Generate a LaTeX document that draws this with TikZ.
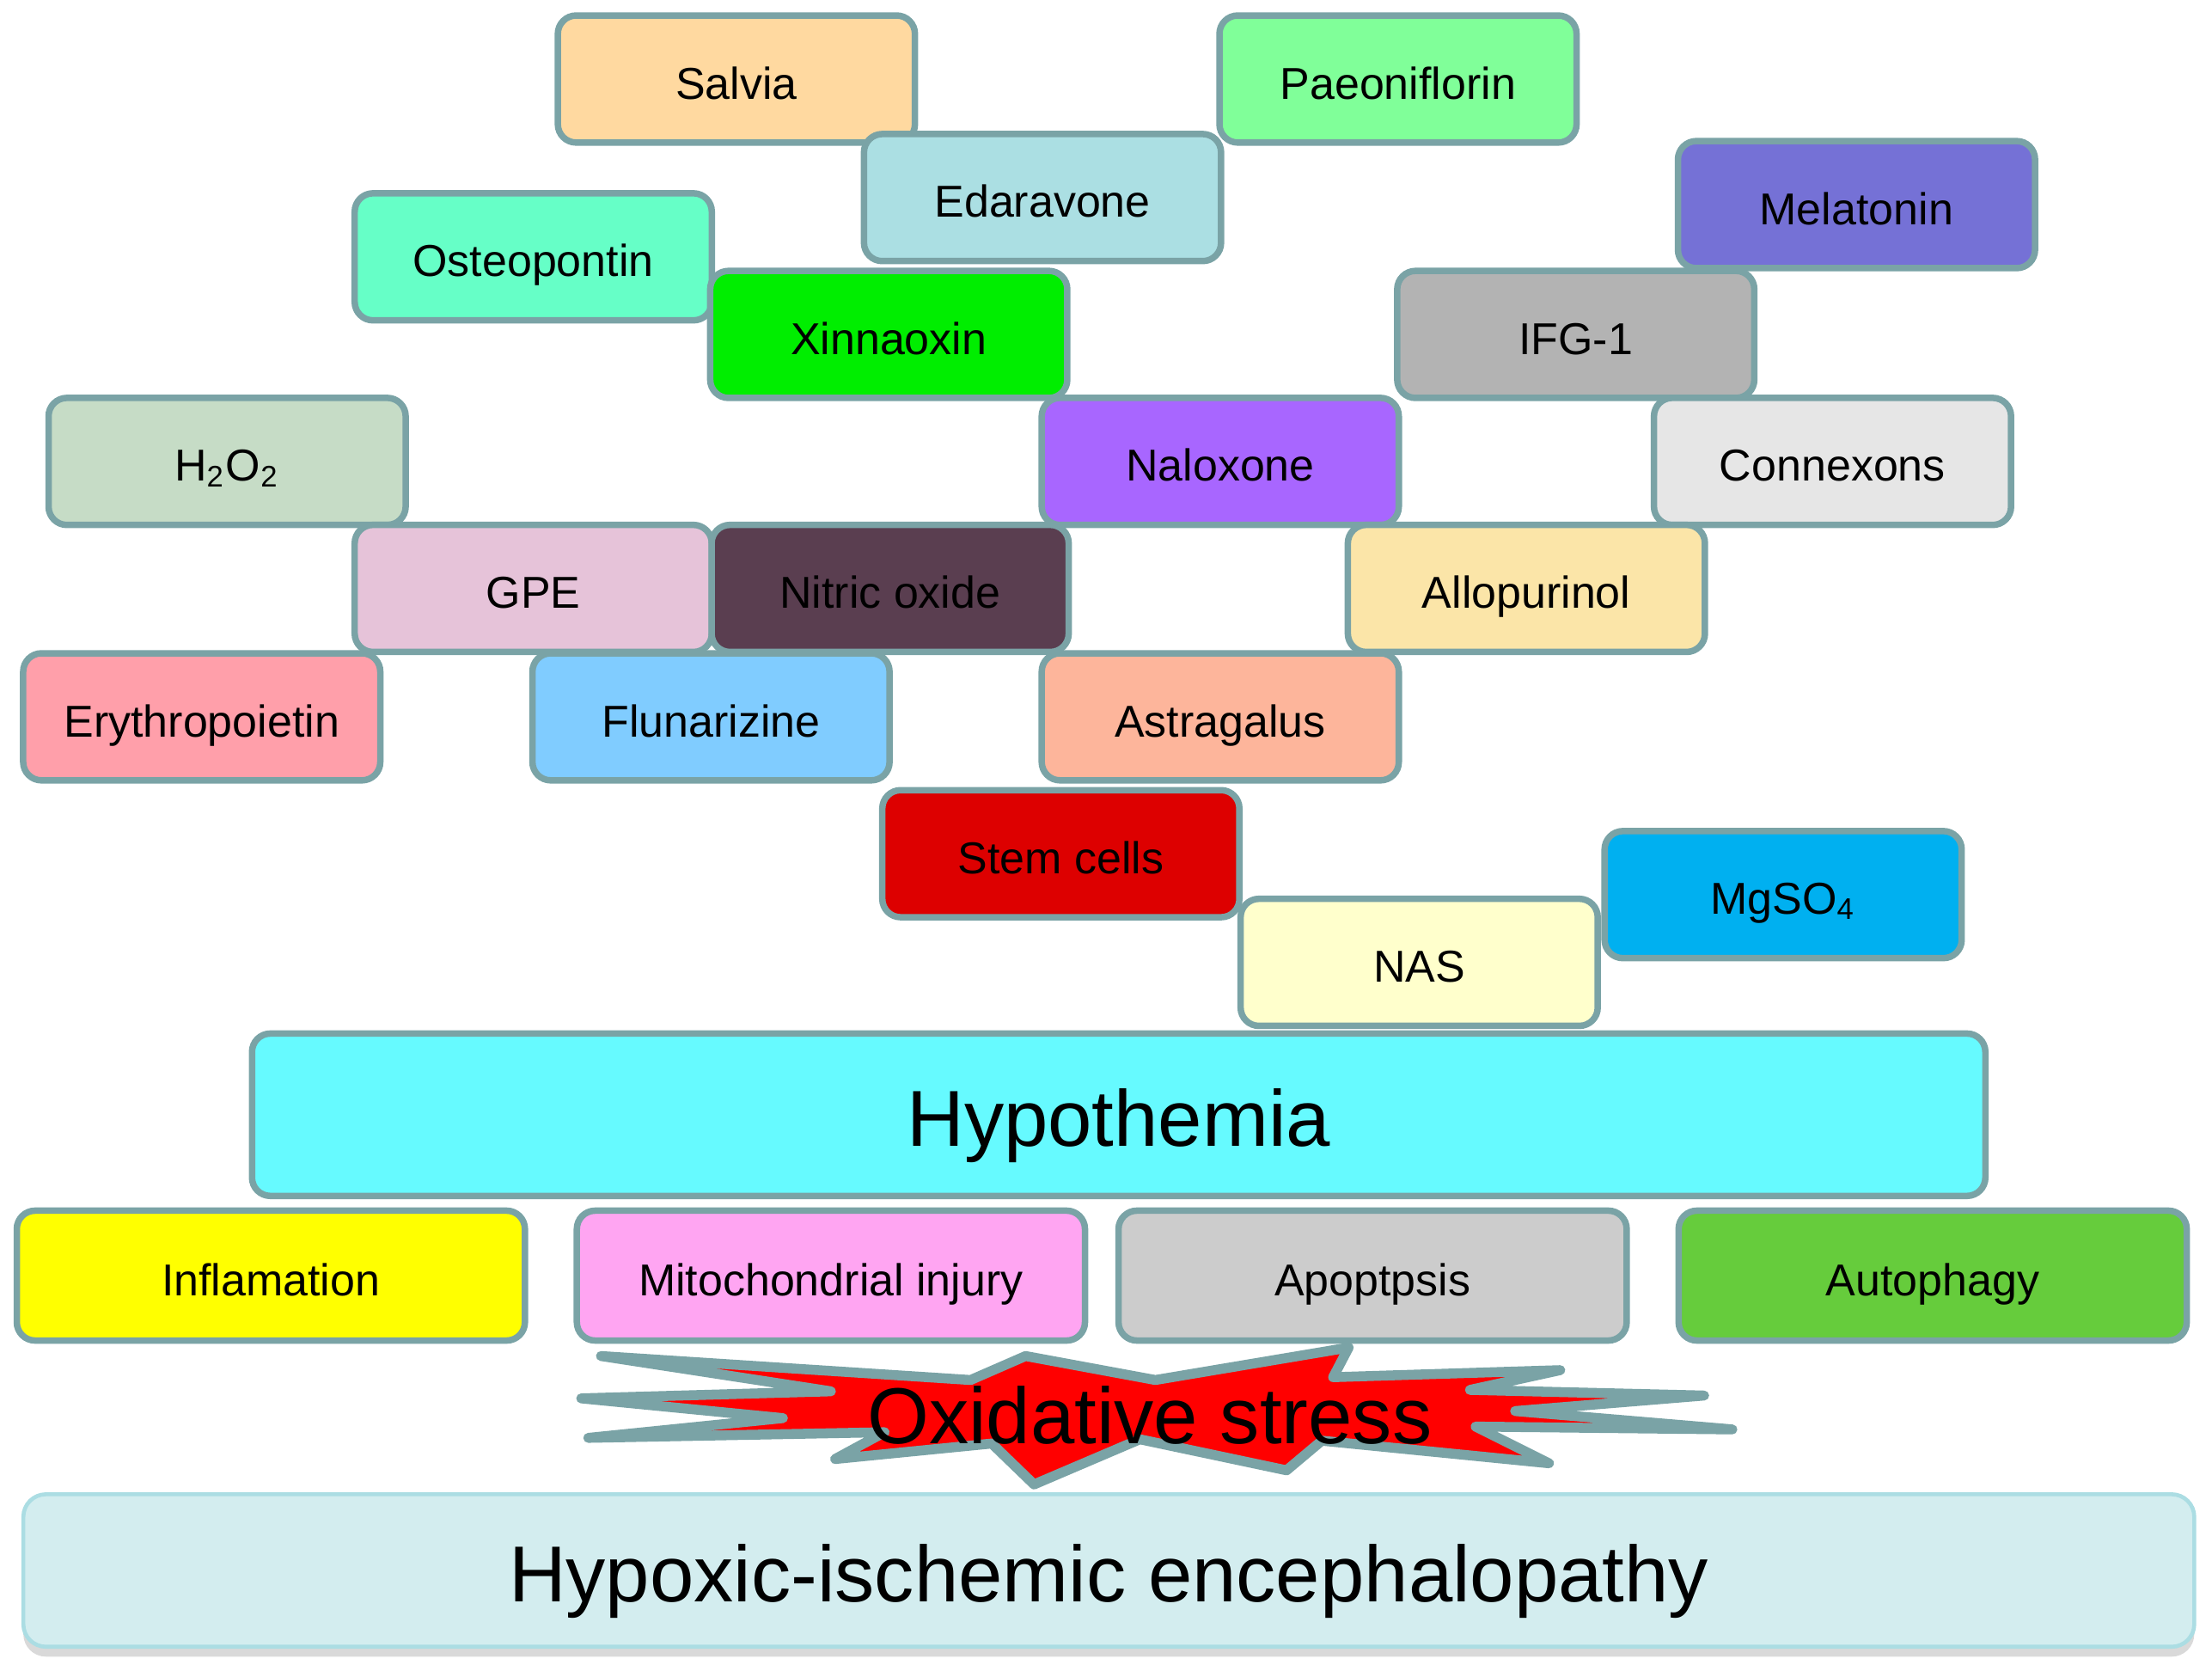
\documentclass[tikz,border=0pt]{standalone}
\usepackage{fontspec}
\setmainfont{Liberation Sans}
\usetikzlibrary{positioning,shadows}
\definecolor{edgegray}{HTML}{7AA3A6}
\definecolor{salviac}{HTML}{FFD9A0}
\definecolor{paeonc}{HTML}{80FF99}
\definecolor{edarac}{HTML}{ABDFE3}
\definecolor{melac}{HTML}{7571D6}
\definecolor{osteoc}{HTML}{66FFC7}
\definecolor{xinc}{HTML}{00EE00}
\definecolor{ifgc}{HTML}{B3B3B3}
\definecolor{hooc}{HTML}{C6DCC6}
\definecolor{naloc}{HTML}{A866FF}
\definecolor{connc}{HTML}{E6E6E6}
\definecolor{gpec}{HTML}{E6C3D9}
\definecolor{nitc}{HTML}{5A3E50}
\definecolor{alloc}{HTML}{FBE5A8}
\definecolor{eryc}{HTML}{FF9FAA}
\definecolor{flunc}{HTML}{80CCFF}
\definecolor{astrc}{HTML}{FDB59B}
\definecolor{stemc}{HTML}{DD0000}
\definecolor{nasc}{HTML}{FFFFCC}
\definecolor{mgc}{HTML}{00B0F0}
\definecolor{hypoc}{HTML}{66FAFF}
\definecolor{inflc}{HTML}{FFFF00}
\definecolor{mitoc}{HTML}{FFA5F2}
\definecolor{apoc}{HTML}{CCCCCC}
\definecolor{autoc}{HTML}{66CC3C}
\definecolor{hiec}{HTML}{D3EDEF}
\definecolor{hieedge}{HTML}{ABDDE3}

\begin{document}
\begin{tikzpicture}[x=0.01cm, y=-0.01cm,
		box/.style={rectangle, rounded corners=0.13cm, draw=edgegray, line width=1.3pt,
			minimum width=2.53cm, minimum height=0.9cm, text=black,
			font=\fontsize{9}{11}\selectfont, text height=8.5pt, text depth=0.5pt},
		widebox/.style={box, minimum width=3.6cm, minimum height=0.92cm},
		bigfont/.style={font=\fontsize{16}{19}\selectfont, text height=13pt, text depth=0.4pt},
		burst/.style={fill=red, draw=edgegray, line width=2pt, line join=round}]
		\useasboundingbox (0,0) rectangle (1568,1184);
		% treatments
		\node[box, fill=salviac] (salvia) at (522,56) {Salvia};
		\node[box, fill=paeonc] (paeon) at (991,56) {Paeoniflorin};
		\node[box, fill=edarac] (edara) at (739,140) {Edaravone};
		\node[box, fill=melac] (mela) at (1316,145) {Melatonin};
		\node[box, fill=osteoc] (osteo) at (378,182) {Osteopontin};
		\node[box, fill=xinc] (xin) at (630,237) {Xinnaoxin};
		\node[box, fill=ifgc] (ifg) at (1117,237) {IFG-1};
		\node[box, fill=hooc] (hoo) at (161,327) {H\textsubscript{2}O\textsubscript{2}};
		\node[box, fill=naloc] (nalo) at (865,327) {Naloxone};
		\node[box, fill=connc] (conn) at (1299,327) {Connexons};
		\node[box, fill=gpec] (gpe) at (378,417) {GPE};
		\node[box, fill=nitc] (nit) at (631,417) {Nitric oxide};
		\node[box, fill=alloc] (allo) at (1082,417) {Allopurinol};
		\node[box, fill=eryc] (ery) at (143,508) {Erythropoietin};
		\node[box, fill=flunc] (flun) at (504,508) {Flunarizine};
		\node[box, fill=astrc] (astr) at (865,508) {Astragalus};
		\node[box, fill=stemc] (stem) at (752,605) {Stem cells};
		\node[box, fill=mgc] (mg) at (1264,634) {MgSO\textsubscript{4}};
		\node[box, fill=nasc] (nas) at (1006,682) {NAS};
		% hypothermia and injuries
		\node[box, bigfont, fill=hypoc, minimum width=12.28cm, minimum height=1.15cm] (hypo) at (793,790) {Hypothemia};
		\node[widebox, fill=inflc] (infl) at (192,904) {Inflamation};
		\node[widebox, fill=mitoc] (mito) at (589,904) {Mitochondrial injury};
		\node[widebox, fill=apoc] (apo) at (973,904) {Apoptpsis};
		\node[widebox, fill=autoc] (auto) at (1370,904) {Autophagy};
		% oxidative stress burst
		\draw[burst] (426,961) -- (688,978) -- (727,961) -- (819,978) -- (956,955) -- (945,976)
			-- (1106,971) -- (1042,985) -- (1208,989) -- (1074,1000) -- (1228,1013)
			-- (1046,1011) -- (1098,1037) -- (937,1021) -- (912,1042) -- (808,1020)
			-- (733,1052) -- (703,1023) -- (592,1034) -- (627,1015) -- (417,1019)
			-- (555,1005) -- (412,991) -- (589,986) -- cycle;
		\node[bigfont, inner sep=0pt] (ox) at (815,1001) {Oxidative stress};
		% disease
		\node[rectangle, rounded corners=0.16cm, bigfont, fill=hiec, draw=hieedge, line width=0.8pt,
			minimum width=15.38cm, minimum height=1.08cm,
			drop shadow={shadow xshift=0pt, shadow yshift=-0.07cm, opacity=0.3}] (hie) at (786,1113) {Hypoxic-ischemic encephalopathy};
\end{tikzpicture}
\end{document}
